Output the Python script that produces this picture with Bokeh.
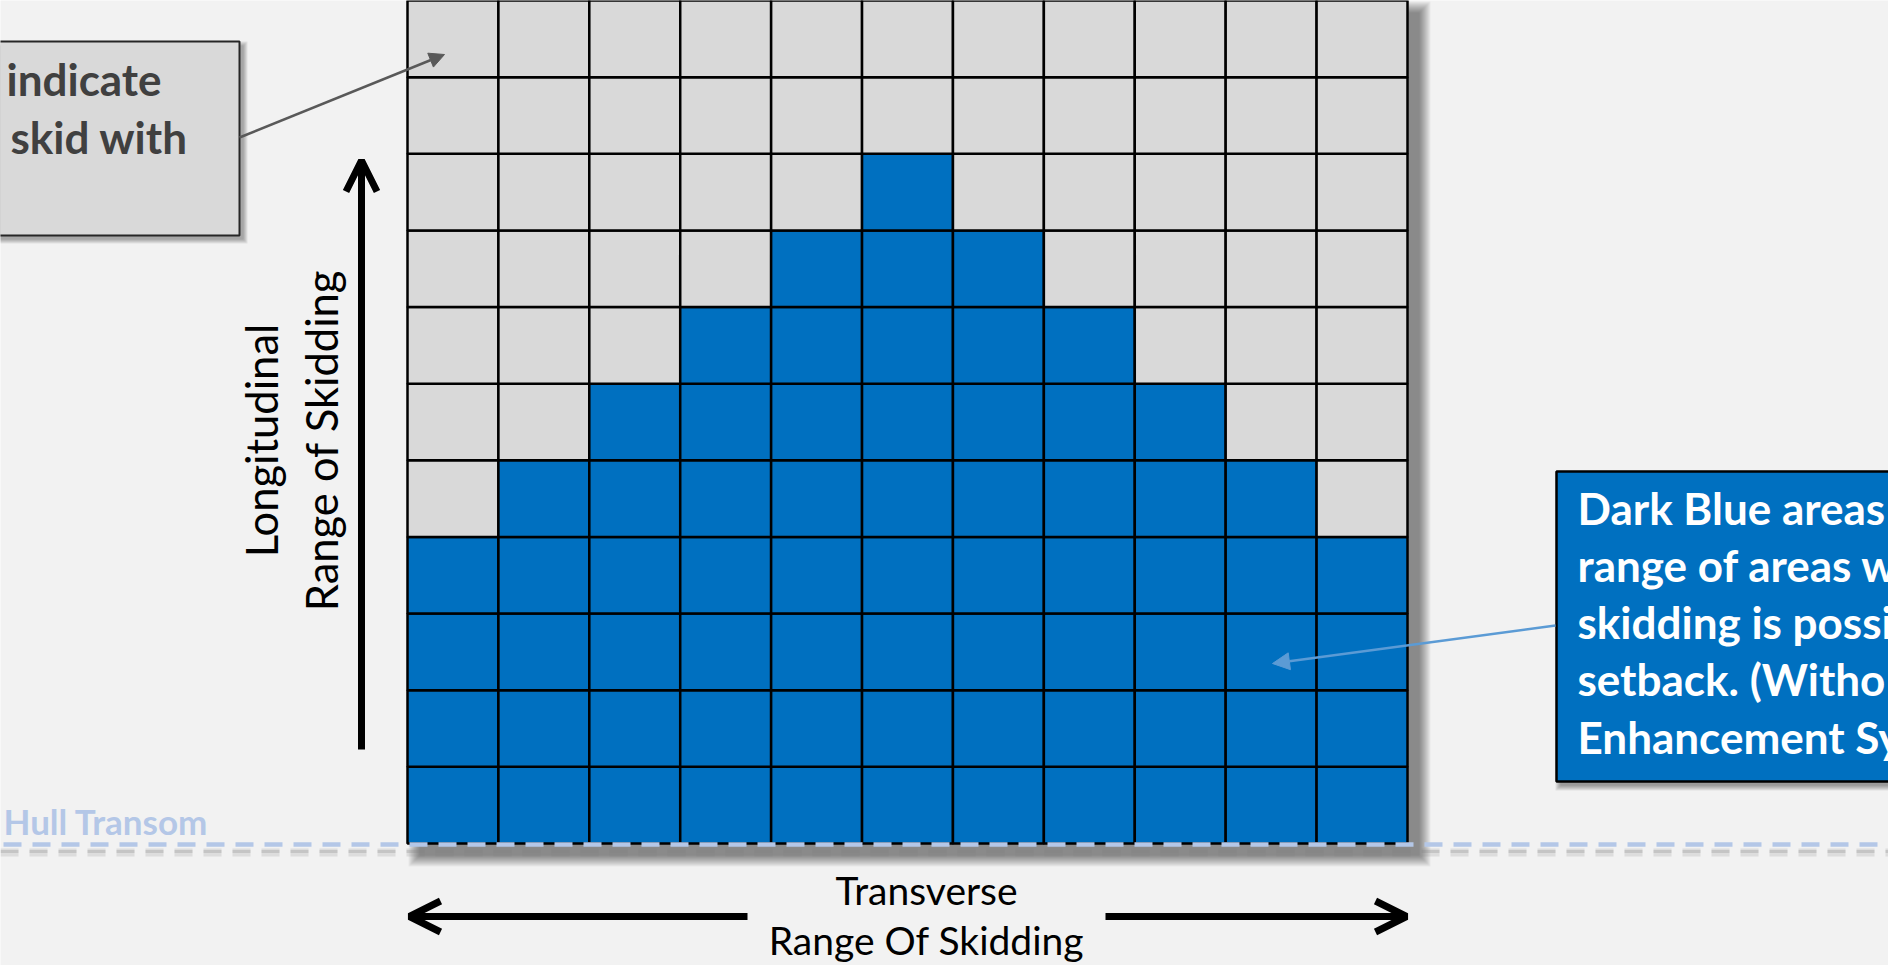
import math
from bokeh.plotting import figure
from bokeh.models import Range1d, Arrow, OpenHead, NormalHead, ColumnDataSource
from bokeh.core.properties import value
from bokeh.embed import file_html
from bokeh.resources import INLINE

# ---------------- data ----------------
transverse_cols = list(range(11))      # columns of the skid grid (left -> right)
longitudinal_rows = list(range(11))    # rows of the skid grid (bottom -> top)
# half-width (in cells, around the centre column) of the dark-blue region per row, bottom -> top
blue_half_width = [5, 5, 5, 5, 4, 3, 2, 1, 0, -1, -1]

grey_box_lines = ["indicate", "skid with"]
blue_box_lines = ["Dark Blue areas", "range of areas w", "skidding is possi",
                  "setback. (Witho", "Enhancement Sy"]
y_label_lines = ["Longitudinal", "Range of Skidding"]
x_label_lines = ["Transverse", "Range Of Skidding"]
transom_label = "Hull Transom"

# ---------------- layout / style ----------------
W, H = 1888, 965
GL, GR, GT, GB = 407, 1407, 0, 843      # grid extent on the page (px)
BG = "#F2F2F2"
BLUE = "#0070C0"
GREY = "#D9D9D9"
LIGHTBLUE = "#B4C7E7"
FONT = value("Lato")
BSHIFT = 0.45   # baseline correction (fraction of font size)

ncols, nrows = len(transverse_cols), len(longitudinal_rows)
ux = (GR - GL) / ncols
uy = (GB - GT) / nrows
x_start = -GL / ux
x_end = x_start + W / ux
y_top = GB / uy
y_bot = (GB - H) / uy

p = figure(width=W, height=H,
           x_range=Range1d(x_start, x_end), y_range=Range1d(y_bot, y_top),
           output_backend="svg", toolbar_location=None,
           x_axis_location=None, y_axis_location=None,
           min_border=0, background_fill_color=BG, border_fill_color=BG,
           outline_line_color=None)
p.grid.visible = False
p.extra_x_ranges = {"px": Range1d(0, W)}
p.extra_y_ranges = {"px": Range1d(H, 0)}
PX = dict(x_range_name="px", y_range_name="px")


def shadow(l, r, t, b, off, blur, alpha):
    for k in range(blur):
        p.quad(left=l + off - k, right=r + off + k, top=t + off - k, bottom=b + off + k,
               fill_color="black", fill_alpha=alpha, line_color=None, **PX)


def htext(xs, ys, texts, size, **kw):
    p.text(x=xs, y=[y - BSHIFT * size for y in ys], text=texts, text_font=FONT,
           text_font_size=f"{size}px", text_baseline="alphabetic", **kw, **PX)


# grid shadow
shadow(GL, GR, GT, GB, 12, 12, 0.045)

# ---------------- grid cells ----------------
centre = ncols // 2
xs, ys, colors = [], [], []
for r in longitudinal_rows:
    for c in transverse_cols:
        xs.append(c + 0.5)
        ys.append(r + 0.5)
        colors.append(BLUE if abs(c - centre) <= blue_half_width[r] else GREY)
src = ColumnDataSource(dict(x=xs, y=ys, color=colors))
p.rect(x="x", y="y", width=1, height=1, source=src, fill_color="color",
       line_color="black", line_width=2.5)

# ---------------- hull transom line ----------------
p.line(x=[0, 1900], y=[852, 852], line_color="#7F7F7F", line_alpha=0.18, line_width=8,
       line_dash="18 11", **PX)
p.line(x=[0, 1900], y=[851, 851], line_color="#7F7F7F", line_alpha=0.25, line_width=3,
       line_dash="18 11", **PX)
p.line(x=[3, 1900], y=[844, 844], line_color=LIGHTBLUE, line_width=4.5,
       line_dash="18 11", **PX)
htext([3], [836], [transom_label], 35, text_font_style="bold",
      text_color=LIGHTBLUE, text_align="left")

# ---------------- axis labels & arrows ----------------
VS = 43.5
p.text(x=[280 - BSHIFT * VS, 340 - BSHIFT * VS], y=[440, 440], text=y_label_lines,
       angle=math.pi / 2, text_font=FONT, text_font_size=f"{VS}px", text_color="black",
       text_align="center", text_baseline="alphabetic", **PX)
htext([926, 926], [907, 957], x_label_lines, 39, text_color="black", text_align="center")

for (xa, ya, xb, yb) in [(361, 749, 361, 160), (747, 916, 409, 916), (1105, 916, 1406, 916)]:
    p.add_layout(Arrow(x_start=xa, y_start=ya, x_end=xb, y_end=yb,
                       line_color="black", line_width=7,
                       end=OpenHead(size=31, line_color="black", line_width=7),
                       x_range_name="px", y_range_name="px"))

# ---------------- grey call-out box ----------------
shadow(-20, 239, 41, 235, 4, 5, 0.07)
p.quad(left=-20, right=239, top=41, bottom=235, fill_color=GREY,
       line_color="#262626", line_width=2, **PX)
htext([6, 10], [98, 156], grey_box_lines, 44, text_font_style="bold",
      text_color="#404040", text_align="left")
p.add_layout(Arrow(x_start=239, y_start=137, x_end=444, y_end=54,
                   line_color="#595959", line_width=2.5,
                   end=NormalHead(size=15, fill_color="#595959", line_color="#595959"),
                   x_range_name="px", y_range_name="px"))

# ---------------- blue call-out box ----------------
shadow(1556, 1960, 471, 781, 4, 6, 0.07)
p.quad(left=1556, right=1960, top=471, bottom=781, fill_color=BLUE,
       line_color="black", line_width=2.5, **PX)
htext([1577] * len(blue_box_lines), [527 + 57.2 * i for i in range(len(blue_box_lines))],
      blue_box_lines, 44, text_font_style="bold", text_color="white", text_align="left")
p.add_layout(Arrow(x_start=1555, y_start=625, x_end=1272, y_end=663,
                   line_color="#5B9BD5", line_width=2.5,
                   end=NormalHead(size=17, fill_color="#5B9BD5", line_color="#5B9BD5"),
                   x_range_name="px", y_range_name="px"))

html = file_html(p, INLINE)
html = html.replace("<body>", '<body style="background-color:#F2F2F2;">', 1)
open("out.html", "w").write(html)
